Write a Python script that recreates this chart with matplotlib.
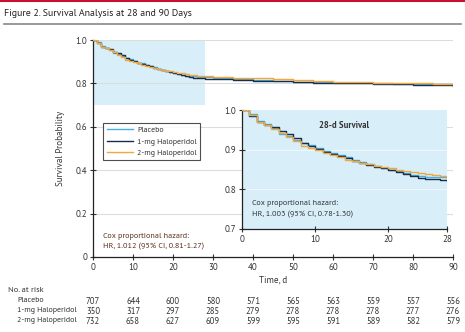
import matplotlib
matplotlib.use("Agg")
import matplotlib.pyplot as plt
from matplotlib.lines import Line2D

plt.rcParams['font.family'] = ['PT Sans', 'Liberation Sans', 'DejaVu Sans']

days = [0, 1, 2, 3, 4, 5, 6, 7, 8, 9, 10, 11, 12, 13, 14, 15, 16, 17, 18, 19, 20,
        21, 22, 23, 24, 25, 26, 27, 28, 30, 35, 40, 45, 50, 55, 60, 65, 70, 75, 80, 85, 90]
placebo = [1.0, 0.99, 0.972, 0.965, 0.955, 0.94, 0.934, 0.925, 0.918, 0.912, 0.905,
           0.896, 0.892, 0.886, 0.881, 0.874, 0.868, 0.863, 0.858, 0.853, 0.849,
           0.845, 0.840, 0.836, 0.834, 0.832, 0.831, 0.830, 0.829,
           0.824, 0.818, 0.814, 0.811, 0.808, 0.806, 0.804, 0.802, 0.800, 0.798, 0.796, 0.795, 0.794]
halo1 = [1.0, 0.985, 0.969, 0.963, 0.958, 0.947, 0.939, 0.929, 0.918, 0.909, 0.901,
         0.894, 0.890, 0.885, 0.878, 0.871, 0.866, 0.862, 0.857, 0.853, 0.849,
         0.843, 0.838, 0.833, 0.828, 0.826, 0.825, 0.823, 0.820,
         0.818, 0.815, 0.813, 0.810, 0.807, 0.804, 0.802, 0.800, 0.798, 0.796, 0.794, 0.792, 0.790]
halo2 = [1.0, 0.988, 0.970, 0.962, 0.953, 0.943, 0.933, 0.921, 0.910, 0.905, 0.898,
         0.892, 0.887, 0.881, 0.875, 0.871, 0.867, 0.863, 0.859, 0.856, 0.853,
         0.850, 0.847, 0.844, 0.841, 0.838, 0.836, 0.834, 0.832,
         0.829, 0.826, 0.823, 0.820, 0.816, 0.812, 0.808, 0.806, 0.804, 0.802, 0.800, 0.798, 0.797]

group_names = ['Placebo', '1-mg Haloperidol', '2-mg Haloperidol']
risk_times = [0, 10, 20, 30, 40, 50, 60, 70, 80, 90]
risk_placebo = [707, 644, 600, 580, 571, 565, 563, 559, 557, 556]
risk_halo1 = [350, 317, 297, 285, 279, 278, 278, 278, 277, 276]
risk_halo2 = [732, 658, 627, 609, 599, 595, 591, 589, 582, 579]

colors = ['#49aee0', '#1b2b48', '#f0a83a']
shade = '#d8eef9'
tick_col = '#333333'

W, H = 465, 332
fig = plt.figure(figsize=(W / 100, H / 100), dpi=100)

def fx(px):
    return px / W

def fy(py):
    return 1 - py / H

# header lines and title
fig.add_artist(Line2D([0, 1], [fy(1), fy(1)], color='#c8102e', lw=1.5))
fig.add_artist(Line2D([fx(4), fx(461)], [fy(24), fy(24)], color='#888888', lw=1.2))
fig.text(fx(4), fy(14), 'Figure 2. Survival Analysis at 28 and 90 Days', fontsize=7.1,
         va='center', ha='left', color='#222222')

# main axes
ax = fig.add_axes([fx(93), fy(257), fx(453 - 93), (257 - 40) / H])
ax.set_xlim(0, 90)
ax.set_ylim(0, 1.0)
ax.axvspan(0, 28, ymin=0.7, ymax=1.0, color=shade, lw=0, zorder=0)
for yv in [0.2, 0.4, 0.6, 0.8, 1.0]:
    ax.axhline(yv, color='#dddddd', lw=0.8, zorder=0.5)
series = [placebo, halo1, halo2]
for s, c, n in zip(series, colors, group_names):
    ax.step(days, s, where='post', color=c, lw=1.0, label=n, zorder=3)
for sp in ['top', 'right']:
    ax.spines[sp].set_visible(False)
for sp in ['left', 'bottom']:
    ax.spines[sp].set_color('#222222')
    ax.spines[sp].set_linewidth(0.9)
ax.set_xticks(risk_times)
ax.set_yticks([0, 0.2, 0.4, 0.6, 0.8, 1.0])
ax.set_yticklabels(['0', '0.2', '0.4', '0.6', '0.8', '1.0'])
ax.tick_params(axis='both', labelsize=6.5, colors=tick_col, direction='inout', length=4, width=0.8, pad=2)
ax.set_xlabel('Time, d', fontsize=6.5, color='#333333', labelpad=3)
ax.set_ylabel('Survival Probability', fontsize=6.5, color='#333333', labelpad=8)
leg = ax.legend(loc='upper left', bbox_to_anchor=((103 - 93) / 360, (257 - 123) / 217),
                fontsize=5.8, frameon=True, fancybox=False, handlelength=3.3,
                borderpad=0.45, labelspacing=0.45, handletextpad=0.5, borderaxespad=0)
leg.get_frame().set_edgecolor('#222222')
leg.get_frame().set_linewidth(0.8)
for t in leg.get_texts():
    t.set_color('#333333')
ax.text(2.5, 0.069, 'Cox proportional hazard:\nHR, 1.012 (95% CI, 0.81-1.27)', fontsize=5.9,
        color='#5a2e1c', ha='left', va='center', linespacing=1.6)

# inset
ins = fig.add_axes([fx(242), fy(229), fx(447 - 242), (229 - 110) / H])
ins.set_facecolor(shade)
ins.set_xlim(0, 28)
ins.set_ylim(0.7, 1.0)
for yv in [0.8, 0.9]:
    ins.axhline(yv, color='#eef7fc', lw=0.8, zorder=0.5)
n28 = days.index(28) + 1
for s, c in zip(series, colors):
    ins.step(days[:n28], s[:n28], where='post', color=c, lw=1.0, zorder=3)
for sp in ['top', 'right']:
    ins.spines[sp].set_visible(False)
for sp in ['left', 'bottom']:
    ins.spines[sp].set_color('#222222')
    ins.spines[sp].set_linewidth(0.9)
ins.set_xticks([0, 10, 20, 28])
ins.set_yticks([0.7, 0.8, 0.9, 1.0])
ins.set_yticklabels(['0.7', '0.8', '0.9', '1.0'])
ins.tick_params(axis='both', labelsize=6.5, colors=tick_col, direction='inout', length=4, width=0.8, pad=2)
ins.text(14, 0.96, '28-d Survival', fontsize=6.3, fontweight='bold', color='#333333',
         ha='center', va='center')
ins.text(1.3, 0.75, 'Cox proportional hazard:\nHR, 1.003 (95% CI, 0.78-1.30)', fontsize=5.9,
         color='#333333', ha='left', va='center', linespacing=1.6)

# at-risk table
fig.text(fx(8), fy(291), 'No. at risk', fontsize=6, color='#333333', va='center', ha='left')
for row, (name, vals) in enumerate(zip(group_names, [risk_placebo, risk_halo1, risk_halo2])):
    yy = fy(301 + 10 * row)
    fig.text(fx(17), yy, name, fontsize=5.8, color='#333333', va='center', ha='left')
    for t, v in zip(risk_times, vals):
        xd = ax.transData.transform((t, 0))[0]
        xf = fig.transFigure.inverted().transform((xd, 0))[0]
        fig.text(xf, yy, str(v), fontsize=6.2, color='#333333', va='center', ha='center')

fig.savefig('out.png', dpi=100)
